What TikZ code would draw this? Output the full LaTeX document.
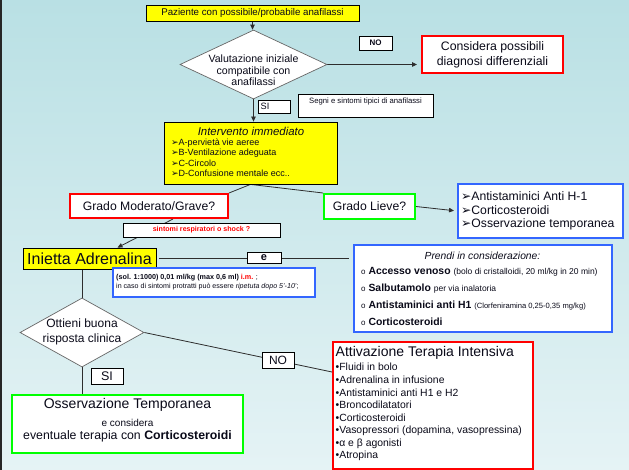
\documentclass[tikz,border=0pt]{standalone}
\usepackage{fontspec}
\setmainfont{Liberation Sans}
\newfontfamily\dv{DejaVu Sans}
\usetikzlibrary{shapes.geometric,arrows.meta,calc}
\definecolor{bgtop}{RGB}{185,224,228}
\definecolor{bgbot}{RGB}{229,243,245}
\definecolor{yel}{RGB}{255,255,0}
\definecolor{redb}{RGB}{255,0,0}
\definecolor{grnb}{RGB}{0,255,0}
\definecolor{blub}{RGB}{51,102,255}
\definecolor{linc}{RGB}{45,45,45}
\definecolor{txc}{RGB}{10,10,25}
\newcommand\fsz[2]{\fontsize{#1}{#2}\selectfont}
\newcommand\arw{{\dv ➢}}
\pgfdeclarelayer{bg}
\pgfsetlayers{bg,main}
\begin{document}
\begin{tikzpicture}[x=1pt,y=-1pt,
  box/.style={draw=black, line width=0.8pt, fill=white, inner sep=0pt, align=center, text=txc},
  ybox/.style={box, fill=yel},
  rbox/.style={box, draw=redb, line width=2pt},
  gbox/.style={box, draw=grnb, line width=2pt},
  bbox/.style={box, draw=blub, line width=2pt},
  dia/.style={diamond, draw=black!60, fill=white, line width=0.7pt, inner sep=0pt},
  conn/.style={draw=linc, line width=0.8pt},
  arr/.style={conn, -{Triangle[length=5pt,width=4.5pt]}},
  txt/.style={inner sep=0pt, align=left, anchor=west, text=txc},
  ctxt/.style={inner sep=0pt, align=center, text=txc}
]
\useasboundingbox (0,0) rectangle (629,470);

% ---------- nodes ----------
\node[ybox, minimum width=213pt, minimum height=16pt, font={\fsz{9.7}{11}}] (paz) at (252.5,13) {Paziente con possibile/probabile anafilassi};

\node[dia, minimum width=147pt, minimum height=69pt] (diam1) at (253.5,64.5) {};
\node[ctxt, font={\fsz{10.6}{11.7}}] (diam1t) at (253.5,70.5) {Valutazione iniziale\\compatibile con\\anafilassi};

\node[box, minimum width=33pt, minimum height=14pt, font={\fsz{8}{9}\bfseries}] (no1) at (375.5,43) {NO};

\node[rbox, minimum width=141pt, minimum height=37pt, font={\fsz{12.3}{15}}] (cons) at (492.5,54.5) {Considera possibili\\diagnosi differenziali};

\node[box, minimum width=32pt, minimum height=13pt] (si1) at (274,106.5) {};
\node[txt, font={\fsz{9.2}{10}}] (si1t) at (260.5,106.5) {SI};

\node[box, minimum width=135pt, minimum height=23pt] (segni) at (365.5,105.5) {};
\node[ctxt, font={\fsz{7.7}{9}}] (segnit) at (365.5,102) {Segni e sintomi tipici di anafilassi};

\node[ybox, minimum width=173pt, minimum height=62pt] (interv) at (250.5,153) {};
\node[ctxt, font={\fsz{11.4}{13}\itshape}] (intervt) at (251,131.5) {Intervento immediato};
\node[txt, font={\fsz{9}{10}}] (iv1) at (171,143.3) {\arw A-pervietà vie aeree};
\node[txt, font={\fsz{9}{10}}] (iv2) at (171,153.3) {\arw B-Ventilazione adeguata};
\node[txt, font={\fsz{9}{10}}] (iv3) at (171,163.3) {\arw C-Circolo};
\node[txt, font={\fsz{9}{10}}] (iv4) at (171,173.3) {\arw D-Confusione mentale ecc..};

\node[rbox, minimum width=158pt, minimum height=24pt, font={\fsz{12.2}{14}}] (mod) at (149,206) {Grado Moderato/Grave?};
\node[gbox, minimum width=91pt, minimum height=25pt, font={\fsz{12.2}{14}}] (lieve) at (369.5,206.5) {Grado Lieve?};

\node[bbox, minimum width=165pt, minimum height=54pt] (blu1) at (540.5,211) {};
\node[txt, font={\fsz{12.2}{14}}] (b1) at (461,196) {\arw Antistaminici Anti H-1};
\node[txt, font={\fsz{12.2}{14}}] (b2) at (461,210) {\arw Corticosteroidi};
\node[txt, font={\fsz{12.2}{14}}] (b3) at (461,224) {\arw Osservazione temporanea};

\node[ybox, minimum width=133pt, minimum height=21pt, font={\fsz{16}{18}}] (adr) at (89.5,258.5) {Inietta Adrenalina};

\node[bbox, minimum width=258pt, minimum height=87pt] (prendi) at (483,288.5) {};
\node[ctxt, font={\fsz{10.3}{12}\itshape}] (prt) at (482.5,256) {Prendi in considerazione:};
\node[txt, font={\fsz{10.4}{12}}] (p1) at (361,272) {{\fsz{8}{9}o}\ \textbf{Accesso venoso} {\fsz{8.5}{10}(bolo di cristalloidi, 20 ml/kg in 20 min)}};
\node[txt, font={\fsz{10.4}{12}}] (p2) at (361,289) {{\fsz{8}{9}o}\ \textbf{Salbutamolo} {\fsz{8.5}{10}per via inalatoria}};
\node[txt, font={\fsz{10.4}{12}}] (p3) at (361,306) {{\fsz{8}{9}o}\ \textbf{Antistaminici anti H1} {\fsz{7.6}{9}(Clorfeniramina 0,25-0,35 mg/kg)}};
\node[txt, font={\fsz{10.4}{12}}] (p4) at (361,322) {{\fsz{8}{9}o}\ \textbf{Corticosteroidi}};

\node[bbox, minimum width=202pt, minimum height=29pt] (dose) at (214,282.5) {};
\node[txt, font={\fsz{7.2}{8}}] (dose1) at (116,278) {\textbf{(sol. 1:1000) 0,01 ml/kg (max 0,6 ml) \textcolor{redb}{i.m.}} ;};
\node[txt, font={\fsz{7.1}{8}}] (dose2) at (116,286.5) {in caso di sintomi protratti può essere \textit{ripetuta dopo 5'-10'};};

\node[dia, minimum width=124pt, minimum height=69pt] (diam2) at (82,332.5) {};
\node[ctxt, font={\fsz{12}{15}}] (diam2t) at (82,331.5) {Ottieni buona\\risposta clinica};

\node[rbox, minimum width=200pt, minimum height=127pt] (att) at (433,405.5) {};
\node[txt, font={\fsz{14}{16}}] (attt) at (335.5,353) {Attivazione Terapia Intensiva};
\foreach \t [count=\i] in {Fluidi in bolo, Adrenalina in infusione, Antistaminici anti H1 e H2, Broncodilatatori, Corticosteroidi, {Vasopressori (dopamina, vasopressina)}, α e β agonisti, Atropina}
  \node[txt, font={\fsz{10.4}{12}}] (a\i) at (335.5,{367+12.75*(\i-1)}) {•\t};

\node[gbox, minimum width=231pt, minimum height=58pt] (oss) at (127.5,424) {};
\node[ctxt, font={\fsz{14}{16}}] (oss1) at (127.5,405) {Osservazione Temporanea};
\node[ctxt, font={\fsz{10}{12}}] (oss2) at (127.5,423) {e considera};
\node[ctxt, font={\fsz{12.3}{14}}] (oss3) at (127.5,436.5) {eventuale terapia con \textbf{Corticosteroidi}};

\coordinate (attin) at ($(att.north west)+(0,31)$);

% ---------- connectors ----------
\begin{pgfonlayer}{bg}
\shade[top color=bgtop, bottom color=bgbot] (0,0) rectangle (629,470);
\fill[black!85] (0,0) rectangle (1.5,470);
\draw[arr] (paz.south) -- (paz.south |- diam1.north);
\draw[arr, shorten >=4pt] (diam1.east) -- (diam1.east -| cons.west);
\draw[arr] (diam1.south) -- (diam1.south |- interv.north);
\draw[conn] (interv.south) -- (mod.north east);
\draw[conn] (interv.south) -- (lieve.north west);
\draw[arr, shorten >=3pt] (lieve.east) -- (blu1.west);
\draw[arr] ($(mod.south)+(24,0)$) -- ($(adr.north)+(28,0)$);
\draw[conn, shorten <=3pt, shorten >=4pt] (adr.east) -- (adr.east -| prendi.west);
\draw[conn] (adr.south -| diam2.north) -- (diam2.north);
\draw[conn] (diam2.east) -- (attin);
\draw[conn] (diam2.south) -- (diam2.south |- oss.north);
\end{pgfonlayer}

% ---------- tags on top of connectors ----------
\node[box, minimum width=157pt, minimum height=14pt, font={\fsz{7.1}{8}\bfseries}, text=redb] (sint) at (201.5,230) {sintomi respiratori o shock ?};
\node[box, minimum width=34pt, minimum height=11pt, font={\fsz{11}{12}\bfseries}] (ebox) at (264,257.5) {\raisebox{-2pt}{e}};
\node[box, minimum width=32pt, minimum height=16pt, font={\fsz{12}{13}}] (no2) at (278,360) {NO};
\node[box, minimum width=32pt, minimum height=16pt, font={\fsz{12.5}{13}}] (si2) at (107,376) {\raisebox{-2.5pt}{SI}};
\end{tikzpicture}
\end{document}
